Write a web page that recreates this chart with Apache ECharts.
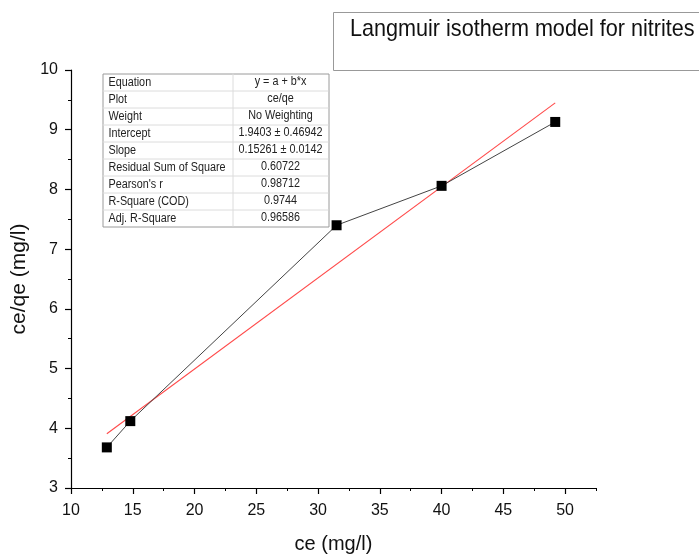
<!DOCTYPE html>
<html>
<head>
<meta charset="utf-8">
<script src="https://cdn.jsdelivr.net/npm/echarts@6/dist/echarts.min.js"></script>
<style>
  html, body { margin: 0; padding: 0; background: #fff; }
  #chart { width: 699px; height: 554px; }
</style>
</head>
<body>
<div id="chart"></div>
<script>
// Measured equilibrium concentration and ce/qe ratio
const ce = [12.9, 14.8, 31.5, 40.0, 49.2];
const ceQe = [3.68, 4.12, 7.40, 8.06, 9.13];

// Linear fit parameters (y = a + b*x)
const intercept = 1.9403;
const slope = 0.15261;

// Axis ticks
const xMajorTicks = [10, 15, 20, 25, 30, 35, 40, 45, 50];
const xMinorTicks = [12.5, 17.5, 22.5, 27.5, 32.5, 37.5, 42.5, 47.5, 52.5];
const yMajorTicks = [3, 4, 5, 6, 7, 8, 9, 10];
const yMinorTicks = [3.5, 4.5, 5.5, 6.5, 7.5, 8.5, 9.5];

// Fit statistics table
const statNames = ['Equation', 'Plot', 'Weight', 'Intercept', 'Slope',
  'Residual Sum of Square', "Pearson's r", 'R-Square (COD)', 'Adj. R-Square'];
const statValues = ['y = a + b*x', 'ce/qe', 'No Weighting', '1.9403 \u00b1 0.46942',
  '0.15261 \u00b1 0.0142', '0.60722', '0.98712', '0.9744', '0.96586'];

const titleText = 'Langmuir isotherm model for nitrites';

const FONT = 'Liberation Sans, Arial, sans-serif';

const chart = echarts.init(document.getElementById('chart'), null, { renderer: 'canvas' });

// Fit line drawn between the first and last measured ce
const fitData = [ce[0], ce[ce.length - 1]].map(x => [x, intercept + slope * x]);

// Statistics table as graphic elements (text slightly condensed)
const tbl = { x: 100, y: 71, w: 226, rowH: 17, splitX: 130 };
const squeeze = 0.9;
const tableChildren = [];
tableChildren.push({
  type: 'rect',
  shape: { x: 0.5, y: 0.5, width: tbl.w, height: tbl.rowH * statNames.length },
  style: { fill: '#fff', stroke: '#9a9a9a', lineWidth: 1 }
});
for (let i = 1; i < statNames.length; i++) {
  tableChildren.push({
    type: 'line',
    shape: { x1: 0, y1: i * tbl.rowH + 0.5, x2: tbl.w, y2: i * tbl.rowH + 0.5 },
    style: { stroke: '#dcdcdc', lineWidth: 1 }
  });
}
tableChildren.push({
  type: 'line',
  shape: { x1: tbl.splitX + 0.5, y1: 0, x2: tbl.splitX + 0.5, y2: tbl.rowH * statNames.length },
  style: { stroke: '#dcdcdc', lineWidth: 1 }
});
statNames.forEach((name, i) => {
  tableChildren.push({
    type: 'text', x: 6, y: i * tbl.rowH + tbl.rowH / 2 + 1, scaleX: squeeze,
    style: {
      x: 0, y: 0, text: name,
      font: '12px ' + FONT, fill: '#222', verticalAlign: 'middle', align: 'left'
    }
  });
  tableChildren.push({
    type: 'text', x: (tbl.splitX + tbl.w) / 2, y: i * tbl.rowH + tbl.rowH / 2, scaleX: squeeze,
    style: {
      x: 0, y: 0, text: statValues[i],
      font: '12px ' + FONT, fill: '#222', verticalAlign: 'middle', align: 'center'
    }
  });
});

const option = {
  backgroundColor: '#fff',
  animation: false,
  grid: { left: 71, right: 103, top: 70, bottom: 66, containLabel: false, outerBoundsMode: 'none' },
  xAxis: [
    {
      type: 'value', min: 10, max: 52.5, position: 'bottom',
      axisLine: { show: true, onZero: false, lineStyle: { color: '#000', width: 1.2 } },
      axisTick: { show: true, customValues: xMajorTicks, length: 6, lineStyle: { color: '#000', width: 1.2 } },
      axisLabel: { customValues: xMajorTicks, color: '#111', fontSize: 16, fontFamily: FONT, margin: 15 },
      splitLine: { show: false },
      name: 'ce (mg/l)', nameLocation: 'middle', nameGap: 46,
      nameTextStyle: { fontSize: 20, fontFamily: FONT, color: '#111' }
    },
    {
      type: 'value', min: 10, max: 52.5, position: 'bottom',
      axisLine: { show: false, onZero: false },
      axisTick: { show: true, customValues: xMinorTicks, length: 3, lineStyle: { color: '#000', width: 1 } },
      axisLabel: { show: false },
      splitLine: { show: false }
    }
  ],
  yAxis: [
    {
      type: 'value', min: 3, max: 10, position: 'left',
      axisLine: { show: true, onZero: false, lineStyle: { color: '#000', width: 1.2 } },
      axisTick: { show: true, customValues: yMajorTicks, length: 6, lineStyle: { color: '#000', width: 1.2 } },
      axisLabel: { customValues: yMajorTicks, color: '#111', fontSize: 16, fontFamily: FONT, margin: 13 },
      splitLine: { show: false },
      name: 'ce/qe (mg/l)', nameLocation: 'middle', nameGap: 35,
      nameTextStyle: { fontSize: 21, fontFamily: FONT, color: '#111' }
    },
    {
      type: 'value', min: 3, max: 10, position: 'left',
      axisLine: { show: false, onZero: false },
      axisTick: { show: true, customValues: yMinorTicks, length: 3, lineStyle: { color: '#000', width: 1 } },
      axisLabel: { show: false },
      splitLine: { show: false }
    }
  ],
  series: [
    {
      name: 'data', type: 'line', xAxisIndex: 0, yAxisIndex: 0,
      data: ce.map((x, i) => [x, ceQe[i]]),
      symbol: 'rect', symbolSize: 10,
      itemStyle: { color: '#000' },
      lineStyle: { color: '#444', width: 1 },
      z: 3
    },
    {
      name: 'fit', type: 'line', xAxisIndex: 0, yAxisIndex: 0,
      data: fitData, showSymbol: false, symbol: 'none',
      lineStyle: { color: '#ff4a4a', width: 1.1 },
      z: 2
    }
  ],
  graphic: [
    {
      type: 'group', left: 333, top: 12,
      children: [
        { type: 'rect', shape: { x: 0.5, y: 0.5, width: 380, height: 58 },
          style: { fill: '#fff', stroke: '#999', lineWidth: 1 } },
        { type: 'text', x: 17, y: 17, scaleX: 0.9,
          style: { x: 0, y: 0, text: titleText, font: '24px ' + FONT,
            fill: '#111', verticalAlign: 'middle', align: 'left' } }
      ]
    },
    { type: 'group', left: tbl.x, top: tbl.y, children: tableChildren }
  ]
};

chart.setOption(option);
</script>
</body>
</html>
